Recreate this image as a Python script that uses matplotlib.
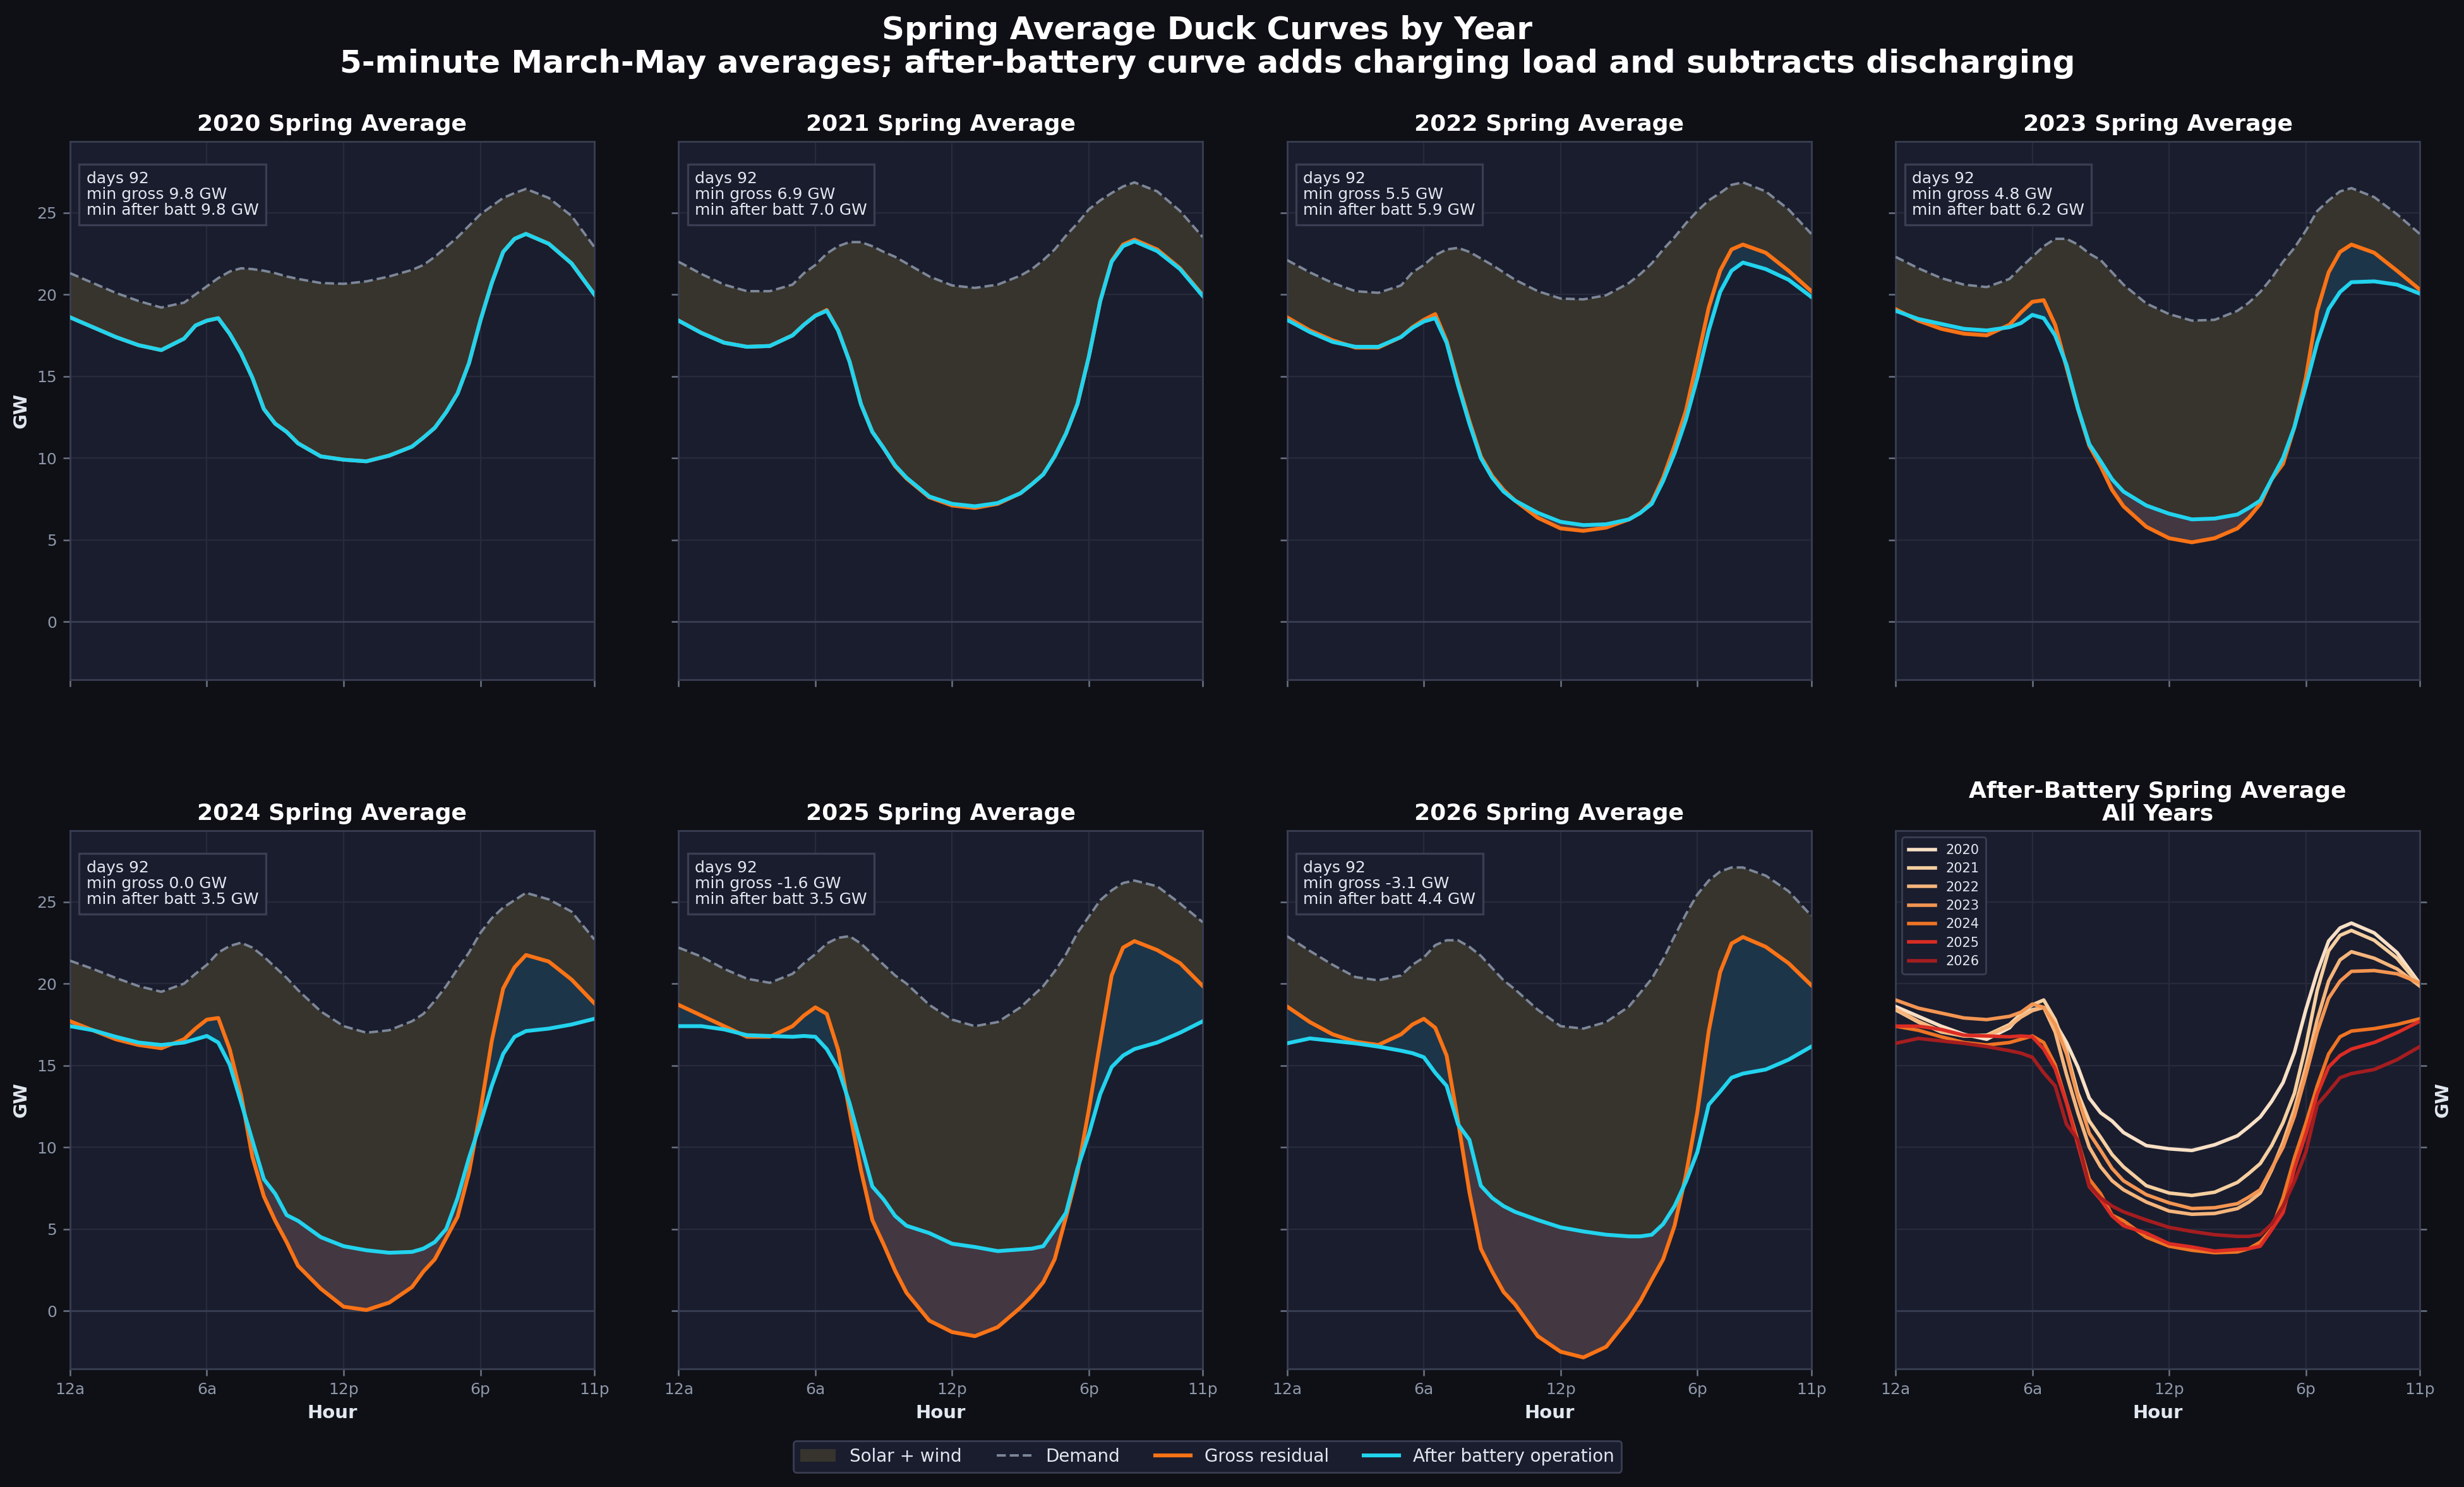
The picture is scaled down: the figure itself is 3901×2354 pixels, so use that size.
import numpy as np
import matplotlib
matplotlib.use("Agg")
import matplotlib.pyplot as plt
from matplotlib.patches import Patch
from matplotlib.lines import Line2D

# ---------------- data ----------------
HOURS = [0, 1, 2, 3, 4, 5, 5.5, 6, 6.5, 7, 7.5, 8, 8.5, 9, 9.5, 10, 11, 12, 13, 14,
         15, 15.5, 16, 16.5, 17, 17.5, 18, 18.5, 19, 19.5, 20, 21, 22, 23]
TICK_POS = [0, 6, 12, 18, 23]
TICK_LABELS = ["12a", "6a", "12p", "6p", "11p"]
YEARS = [2020, 2021, 2022, 2023, 2024, 2025, 2026]
DAYS = [92, 92, 92, 92, 92, 92, 92]
MIN_GROSS = [9.8, 6.9, 5.5, 4.8, 0.0, -1.6, -3.1]
MIN_AFTER = [9.8, 7.0, 5.9, 6.2, 3.5, 3.5, 4.4]

demand_2020 = [21.3, 20.7, 20.1, 19.6, 19.2, 19.5, 20.0, 20.5, 21.0, 21.4, 21.6, 21.55, 21.45, 21.3, 21.1, 20.95, 20.7, 20.65, 20.8, 21.1,
               21.5, 21.8, 22.3, 22.9, 23.5, 24.2, 24.9, 25.4, 25.9, 26.2, 26.45, 25.9, 24.8, 22.9]
gross_2020 = [18.6, 18.0, 17.4, 16.9, 16.6, 17.3, 18.1, 18.4, 18.55, 17.6, 16.4, 14.9, 13.0, 12.1, 11.6, 10.9, 10.1, 9.9, 9.8, 10.15,
              10.7, 11.25, 11.85, 12.8, 13.95, 15.8, 18.4, 20.7, 22.6, 23.4, 23.7, 23.1, 21.9, 20.0]
after_2020 = [18.6, 18.0, 17.4, 16.9, 16.6, 17.3, 18.1, 18.4, 18.55, 17.6, 16.4, 14.9, 13.0, 12.1, 11.6, 10.9, 10.1, 9.9, 9.8, 10.15,
              10.7, 11.25, 11.85, 12.8, 13.95, 15.8, 18.4, 20.7, 22.6, 23.4, 23.7, 23.1, 21.9, 20.0]

demand_2021 = [22.0, 21.25, 20.6, 20.2, 20.2, 20.6, 21.3, 21.8, 22.5, 22.95, 23.2, 23.2, 22.95, 22.6, 22.3, 21.9, 21.1, 20.55, 20.4, 20.6,
               21.15, 21.55, 22.1, 22.75, 23.6, 24.35, 25.2, 25.75, 26.2, 26.6, 26.85, 26.3, 25.1, 23.5]
gross_2021 = [18.4, 17.65, 17.05, 16.8, 16.85, 17.5, 18.15, 18.7, 19.05, 17.8, 15.9, 13.3, 11.6, 10.6, 9.5, 8.75, 7.6, 7.1, 6.95, 7.2,
              7.85, 8.4, 9.0, 10.1, 11.5, 13.3, 16.2, 19.6, 22.05, 23.05, 23.35, 22.75, 21.6, 19.95]
after_2021 = [18.4, 17.65, 17.05, 16.8, 16.85, 17.5, 18.15, 18.7, 19.0, 17.8, 15.9, 13.3, 11.6, 10.6, 9.55, 8.8, 7.65, 7.2, 7.05, 7.25,
              7.85, 8.4, 9.0, 10.1, 11.5, 13.3, 16.2, 19.6, 22.0, 22.95, 23.25, 22.65, 21.55, 19.9]

demand_2022 = [22.1, 21.35, 20.7, 20.2, 20.1, 20.55, 21.35, 21.8, 22.4, 22.75, 22.85, 22.6, 22.2, 21.8, 21.35, 20.9, 20.2, 19.75, 19.7, 19.95,
               20.7, 21.25, 21.9, 22.75, 23.5, 24.35, 25.1, 25.75, 26.2, 26.7, 26.85, 26.3, 25.2, 23.7]
gross_2022 = [18.6, 17.8, 17.2, 16.75, 16.75, 17.4, 18.0, 18.45, 18.8, 17.15, 14.6, 12.25, 10.1, 8.9, 8.05, 7.4, 6.35, 5.7, 5.55, 5.75,
              6.25, 6.65, 7.3, 8.8, 10.75, 12.9, 16.0, 19.2, 21.45, 22.75, 23.05, 22.55, 21.45, 20.2]
after_2022 = [18.45, 17.7, 17.1, 16.8, 16.8, 17.4, 17.95, 18.35, 18.55, 17.05, 14.45, 12.1, 10.0, 8.8, 7.95, 7.4, 6.65, 6.1, 5.9, 5.95,
              6.25, 6.65, 7.2, 8.6, 10.3, 12.35, 14.9, 17.8, 20.15, 21.45, 21.95, 21.55, 20.9, 19.85]

demand_2023 = [22.3, 21.6, 21.0, 20.6, 20.45, 20.95, 21.65, 22.3, 22.95, 23.4, 23.4, 23.05, 22.5, 22.1, 21.35, 20.6, 19.45, 18.8, 18.4, 18.45,
               19.0, 19.5, 20.15, 21.0, 22.0, 22.85, 23.9, 25.1, 25.75, 26.3, 26.5, 25.95, 24.9, 23.7]
gross_2023 = [19.1, 18.4, 17.9, 17.6, 17.5, 18.15, 18.9, 19.55, 19.65, 18.15, 15.55, 13.0, 10.75, 9.5, 8.05, 7.05, 5.8, 5.1, 4.85, 5.1,
              5.7, 6.35, 7.2, 8.7, 9.65, 11.9, 14.9, 19.0, 21.35, 22.6, 23.05, 22.55, 21.45, 20.3]
after_2023 = [19.0, 18.5, 18.2, 17.9, 17.8, 18.0, 18.25, 18.75, 18.55, 17.5, 15.7, 13.05, 10.85, 9.8, 8.7, 7.95, 7.1, 6.6, 6.25, 6.3,
              6.55, 6.95, 7.4, 8.7, 10.0, 11.9, 14.4, 17.05, 19.1, 20.15, 20.75, 20.8, 20.6, 20.05]

demand_2024 = [21.4, 20.9, 20.35, 19.85, 19.5, 20.0, 20.6, 21.15, 21.9, 22.3, 22.5, 22.2, 21.65, 21.0, 20.35, 19.6, 18.3, 17.4, 17.0, 17.15,
               17.7, 18.15, 18.95, 19.85, 20.9, 21.9, 23.1, 24.0, 24.65, 25.1, 25.55, 25.15, 24.4, 22.7]
gross_2024 = [17.7, 17.15, 16.6, 16.25, 16.05, 16.6, 17.25, 17.8, 17.9, 16.0, 13.2, 9.4, 7.0, 5.5, 4.2, 2.75, 1.35, 0.25, 0.05, 0.5,
              1.45, 2.4, 3.15, 4.45, 5.75, 8.45, 12.2, 16.5, 19.7, 21.0, 21.75, 21.35, 20.25, 18.8]
after_2024 = [17.4, 17.15, 16.75, 16.4, 16.25, 16.4, 16.6, 16.8, 16.4, 15.05, 12.75, 10.4, 8.05, 7.15, 5.85, 5.5, 4.5, 3.95, 3.7, 3.55,
              3.6, 3.8, 4.2, 5.0, 6.9, 9.35, 11.45, 13.75, 15.7, 16.75, 17.1, 17.25, 17.5, 17.85]

demand_2025 = [22.2, 21.65, 20.9, 20.3, 20.05, 20.6, 21.25, 21.8, 22.45, 22.8, 22.9, 22.45, 21.8, 21.15, 20.5, 20.0, 18.7, 17.8, 17.4, 17.65,
               18.55, 19.2, 19.85, 20.75, 21.8, 23.1, 24.1, 25.1, 25.7, 26.15, 26.3, 25.95, 24.9, 23.75]
gross_2025 = [18.7, 18.05, 17.4, 16.75, 16.75, 17.4, 18.05, 18.55, 18.15, 15.95, 12.2, 8.6, 5.55, 4.05, 2.45, 1.1, -0.6, -1.3, -1.55, -1.0,
              0.2, 0.9, 1.75, 3.15, 5.75, 8.45, 12.3, 16.45, 20.5, 22.2, 22.6, 22.05, 21.25, 19.85]
after_2025 = [17.4, 17.4, 17.2, 16.85, 16.8, 16.75, 16.8, 16.75, 16.0, 14.8, 12.7, 10.15, 7.6, 6.8, 5.8, 5.2, 4.75, 4.1, 3.9, 3.65,
              3.75, 3.8, 3.95, 4.95, 6.0, 8.7, 10.8, 13.25, 14.9, 15.6, 16.0, 16.4, 17.0, 17.7]

demand_2026 = [22.9, 22.0, 21.15, 20.4, 20.2, 20.5, 21.15, 21.6, 22.35, 22.65, 22.65, 22.25, 21.7, 20.95, 20.2, 19.65, 18.4, 17.4, 17.25, 17.65,
               18.6, 19.45, 20.3, 21.5, 22.9, 24.25, 25.45, 26.3, 26.85, 27.1, 27.1, 26.6, 25.65, 24.15]
gross_2026 = [18.6, 17.65, 16.9, 16.45, 16.25, 16.9, 17.5, 17.85, 17.3, 15.6, 11.6, 7.25, 3.8, 2.4, 1.15, 0.4, -1.55, -2.5, -2.85, -2.2,
              -0.45, 0.6, 1.9, 3.15, 5.2, 8.3, 12.15, 17.1, 20.7, 22.45, 22.85, 22.25, 21.25, 19.9]
after_2026 = [16.35, 16.65, 16.5, 16.35, 16.15, 15.9, 15.75, 15.5, 14.55, 13.75, 11.4, 10.45, 7.65, 6.9, 6.4, 6.05, 5.55, 5.1, 4.85, 4.65,
              4.55, 4.55, 4.65, 5.3, 6.4, 7.9, 9.7, 12.6, 13.4, 14.25, 14.5, 14.75, 15.35, 16.15]

DEMAND = [demand_2020, demand_2021, demand_2022, demand_2023, demand_2024, demand_2025, demand_2026]
GROSS = [gross_2020, gross_2021, gross_2022, gross_2023, gross_2024, gross_2025, gross_2026]
AFTER = [after_2020, after_2021, after_2022, after_2023, after_2024, after_2025, after_2026]

# ---------------- style ----------------
FIG_BG = "#0f1016"
AX_BG = "#1a1d2e"
SPINE = "#3a3e52"
GRID = "#272b3c"
TICK = "#8e98aa"
LABEL = "#e2e8f0"
OLIVE = "#36342d"
BLUE_FILL = "#1d3549"
RED_FILL = "#433741"
CYAN = "#22d3ee"
ORANGE = "#f97316"
DEMAND_C = "#7d8799"
YEAR_COLORS = ["#f8e0c6", "#f6cfa0", "#f5b57c", "#f39552", "#ee7424", "#dc2c24", "#a51d1f"]

x = np.array(HOURS)

fig = plt.figure(figsize=(19.505, 11.77), dpi=200, facecolor=FIG_BG)
axes = fig.subplots(2, 4, sharex=True, sharey=True)
fig.subplots_adjust(left=0.02845, right=0.98206, top=0.90484, bottom=0.07944,
                    wspace=0.1607, hspace=0.2805)


def style_ax(ax):
    ax.set_facecolor(AX_BG)
    for s in ax.spines.values():
        s.set_color(SPINE)
        s.set_linewidth(1.0)
    ax.grid(True, color=GRID, linewidth=0.8)
    ax.set_axisbelow(True)
    ax.axhline(0, color=SPINE, linewidth=1.0, zorder=1)
    ax.tick_params(colors=TICK, labelcolor=TICK, labelsize=9, length=4, width=0.9)
    ax.tick_params(axis="both", color="#6b7385")


flat = axes.flatten()
for i, yr in enumerate(YEARS):
    ax = flat[i]
    style_ax(ax)
    d = np.array(DEMAND[i])
    g = np.array(GROSS[i])
    a = np.array(AFTER[i])
    ax.fill_between(x, np.maximum(g, a), d, color=OLIVE, linewidth=0, zorder=2)
    ax.fill_between(x, a, g, where=g >= a, interpolate=True, color=BLUE_FILL, linewidth=0, zorder=2)
    ax.fill_between(x, a, g, where=a > g, interpolate=True, color=RED_FILL, linewidth=0, zorder=2)
    ax.plot(x, d, color=DEMAND_C, linestyle="--", linewidth=1.4, zorder=3)
    ax.plot(x, g, color=ORANGE, linewidth=2.2, zorder=4)
    ax.plot(x, a, color=CYAN, linewidth=2.2, zorder=5)
    ax.set_title(f"{yr} Spring Average", color="white", fontsize=13, fontweight="bold", pad=6)
    info = f"days {DAYS[i]}\nmin gross {MIN_GROSS[i]:.1f} GW\nmin after batt {MIN_AFTER[i]:.1f} GW"
    ax.text(0.031, 0.945, info, transform=ax.transAxes, va="top", ha="left",
            fontsize=9, color=LABEL, zorder=6, linespacing=1.05,
            bbox=dict(boxstyle="square,pad=0.45", facecolor=AX_BG, edgecolor=SPINE, linewidth=1.2))

# all-years panel
ax = flat[7]
style_ax(ax)
for i, yr in enumerate(YEARS):
    ax.plot(x, AFTER[i], color=YEAR_COLORS[i], linewidth=2.0, label=str(yr), zorder=3 + i)
ax.set_title("After-Battery Spring Average\nAll Years", color="white", fontsize=13,
             fontweight="bold", pad=6, linespacing=1.05)
ax.yaxis.tick_right()
ax.tick_params(labelright=False, labelleft=False)
ax.yaxis.set_label_position("right")
ax.set_ylabel("GW", color=LABEL, fontsize=10.5, fontweight="bold")
leg = ax.legend(loc="upper left", fontsize=7.5, facecolor=AX_BG, edgecolor=SPINE,
                labelcolor=LABEL, handlelength=2.0, borderpad=0.5, labelspacing=0.45,
                framealpha=1.0)

for ax in flat:
    ax.set_xlim(0, 23)
    ax.set_ylim(-3.55, 29.35)
    ax.set_xticks(TICK_POS)
    ax.set_xticklabels(TICK_LABELS)
    ax.set_yticks([0, 5, 10, 15, 20, 25])

for ax in axes[1]:
    ax.set_xlabel("Hour", color=LABEL, fontsize=10.5, fontweight="bold")
for ax in axes[:, 0]:
    ax.set_ylabel("GW", color=LABEL, fontsize=10.5, fontweight="bold")

fig.suptitle("Spring Average Duck Curves by Year\n5-minute March-May averages; after-battery curve adds charging load and subtracts discharging",
             color="white", fontsize=18, fontweight="bold", x=0.49, y=0.990, va="top", linespacing=1.15)

handles = [
    Patch(facecolor=OLIVE, edgecolor="none", label="Solar + wind"),
    Line2D([0], [0], color=DEMAND_C, linestyle="--", linewidth=1.4, label="Demand"),
    Line2D([0], [0], color=ORANGE, linewidth=2.2, label="Gross residual"),
    Line2D([0], [0], color=CYAN, linewidth=2.2, label="After battery operation"),
]
fig.legend(handles=handles, loc="lower center", bbox_to_anchor=(0.49, 0.0098), ncol=4,
           fontsize=10, facecolor=AX_BG, edgecolor=SPINE, labelcolor=LABEL,
           framealpha=1.0, borderaxespad=0, columnspacing=2.0)

fig.savefig("out.png", dpi=200, facecolor=FIG_BG)
